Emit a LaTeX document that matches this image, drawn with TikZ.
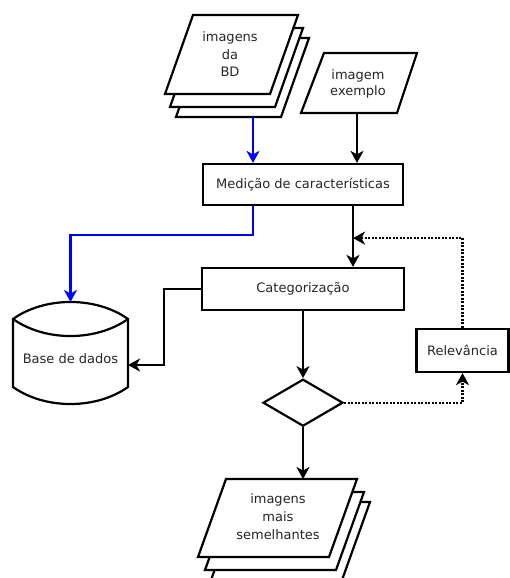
\documentclass[tikz,border=0pt]{standalone}
\usepackage{fontspec}
\setmainfont{DejaVu Sans}
\usetikzlibrary{arrows.meta,shapes.geometric}

\tikzset{
  lw/.style={line width=2.2pt},
  shapeline/.style={lw, draw=black, fill=white, line join=miter},
  procbox/.style={shapeline, rectangle, inner sep=0pt},
  label/.style={align=center, font=\fontsize{13}{17.5}\selectfont, text=black!85},
  tip/.style={-{Stealth[length=12pt,width=13pt,inset=3.5pt]}},
  flow/.style={lw, tip, draw=black},
  blueflow/.style={lw, tip, draw=blue},
  fbflow/.style={lw, tip, draw=black, dash pattern=on 2pt off 1.5pt},
}

\begin{document}
\begin{tikzpicture}[x=1pt,y=-1pt]
\useasboundingbox (0,0) rectangle (509,578);

% stacked input images (database)
\foreach \dx/\dy in {11/23,5/13,0/0}
  \draw[shapeline] (193+\dx,15+\dy) -- (298+\dx,15+\dy) -- (270+\dx,94+\dy) -- (165+\dx,94+\dy) -- cycle;
\node[label] (bdtext) at (230,54.5) {imagens\\da\\BD};
\coordinate (bdbot) at (253,117);

% example image
\draw[shapeline] (324,53) -- (417,53) -- (397,113) -- (301,113) -- cycle;
\node[label, font=\fontsize{13}{15.5}\selectfont] (extext) at (358,84) {imagem\\exemplo};
\coordinate (exbot) at (357,113);

% processing steps
\node[procbox, minimum width=200pt, minimum height=41pt] (med) at (303,184.5) {};
\node[label] (medtext) at (med.center) {Medição de características};
\node[procbox, minimum width=202pt, minimum height=42pt] (cat) at (303,289) {};
\node[label] (cattext) at (cat.center) {Categorização};
\node[procbox, minimum width=92pt, minimum height=43pt] (rel) at (462.5,350.5) {};
\node[label] (reltext) at (rel.center) {Relevância};
\node[shapeline, diamond, minimum width=80pt, minimum height=47pt, inner sep=0pt] (dec) at (303,402.7) {};

% database cylinder
\draw[shapeline] (13,319) .. controls (45,296.3) and (96,296.3) .. (128,319)
  -- (128,387) .. controls (96,409.7) and (45,409.7) .. (13,387) -- cycle;
\draw[lw] (13,319) .. controls (45,341.7) and (96,341.7) .. (128,319);
\node[label] (db) at (70.5,359) {Base de dados};
\coordinate (dbtop) at (70.5,302);
\coordinate (dbright) at (128,365);

% stacked output images
\foreach \dx/\dy in {13/23,7/13,0/0}
  \draw[shapeline] (226+\dx,479+\dy) -- (357+\dx,479+\dy) -- (329+\dx,557+\dy) -- (198+\dx,557+\dy) -- cycle;
\node[label, font=\fontsize{13}{18}\selectfont] (simtext) at (278,517) {imagens\\mais\\semelhantes};
\coordinate (simtop) at (303,479);

% connectors
\draw[blueflow] (bdbot) -- (bdbot |- med.north);
\draw[flow] (exbot) -- (exbot |- med.north);
\draw[blueflow] ([xshift=-50pt]med.south) -- ++(0,29) -| (dbtop);
\draw[flow] ([xshift=50pt]med.south) -- ([xshift=50pt]cat.north);
\coordinate (join) at ([xshift=50pt,yshift=-32pt]med.south);
\draw[flow] (cat.west) -- ++(-37,0) |- (dbright);
\draw[flow] (cat.south) -- (dec.north);
\draw[flow] (dec.south) -- (simtop);
\draw[fbflow] (dec.east) -| (rel.south);
\draw[fbflow] (rel.north) |- (join);
\end{tikzpicture}
\end{document}
